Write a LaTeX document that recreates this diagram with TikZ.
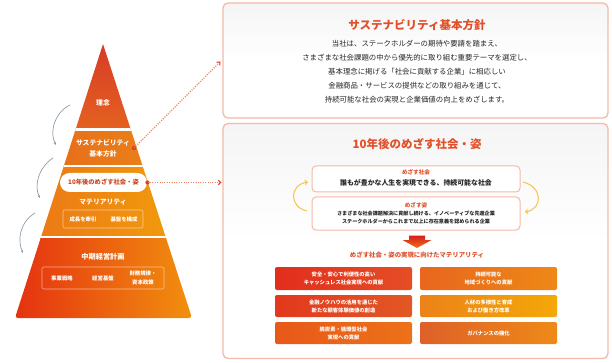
\documentclass[tikz,border=0pt]{standalone}
\usepackage{fontspec}
\setmainfont{Noto Sans CJK JP}
\usetikzlibrary{arrows.meta,calc}
\definecolor{titlered}{HTML}{E0502A}
\definecolor{panelline}{HTML}{F4B9A8}
\definecolor{dotred}{HTML}{D8382A}
\definecolor{dotline}{HTML}{EE8466}
\definecolor{bodytext}{HTML}{262626}
\definecolor{grayarrow}{HTML}{8D9DA9}
\definecolor{yellowarrow}{HTML}{F5C445}
\definecolor{pillred}{HTML}{C8461F}
\begin{document}
\begin{tikzpicture}[x=1pt,y=-1pt,
  every node/.style={inner sep=0pt, outer sep=0pt, align=center},
  ptext/.style={text=white, font=\fontsize{6.8}{11}\selectfont\bfseries},
  psmall/.style={text=white, font=\fontsize{5.4}{8.5}\selectfont\bfseries},
  pbox/.style={draw=white, draw opacity=0.55, line width=0.6, rounded corners=2},
  pill/.style={fill=white, rounded corners=9.5, minimum width=87, minimum height=19,
    text=pillred, font=\fontsize{6.3}{8}\selectfont\bfseries},
  panel/.style={draw=panelline, line width=1.3, rounded corners=5, top color=black!4, bottom color=white, middle color=white},
  ptitle/.style={text=titlered, font=\fontsize{11.5}{13}\selectfont\bfseries},
  body/.style={text=bodytext, font=\fontsize{7.4}{14}\selectfont},
  inbox/.style={draw=panelline, line width=1, rounded corners=4, fill=white, minimum width=208},
  inlabel/.style={text=titlered, font=\fontsize{5.6}{7}\selectfont\bfseries},
  mbox/.style={rounded corners=2, minimum width=137, text=white, font=\fontsize{5.3}{8}\selectfont\bfseries},
  dotconn/.style={draw=dotline, line width=1.1, dash pattern=on 1.1pt off 1.3pt,
    -{Straight Barb[length=2.4pt,width=4.4pt,color=dotred,line width=1.1pt]}},
  grayarr/.style={draw=grayarrow, line width=0.7, -{Stealth[length=3pt,width=2.6pt]}},
  yarr/.style={draw=yellowarrow, line width=1, -{Straight Barb[length=2.2pt,width=4.4pt]}}
]
\useasboundingbox (0,0) rectangle (612,363);

% ---------- pyramid ----------
\begin{scope}
  \clip (103,44) [rounded corners=3pt] -- (15,318) -- (192,318) [sharp corners] -- cycle;
  \shade[top color={rgb,255:red,214;green,58;blue,40}, bottom color={rgb,255:red,228;green,98;blue,32}] (0,40) rectangle (200,130);
  \shade[left color={rgb,255:red,228;green,100;blue,30}, right color={rgb,255:red,236;green,138;blue,22}] (0,130) rectangle (200,167);
  \shade[shading angle=60, left color={rgb,255:red,234;green,112;blue,24}, right color={rgb,255:red,242;green,162;blue,10}] (0,167) rectangle (200,238);
  \shade[shading angle=70, left color={rgb,255:red,228;green,42;blue,16}, right color={rgb,255:red,242;green,148;blue,14}] (0,238) rectangle (200,320);
  \draw[white, line width=2.4] (0,129.5) -- (200,129.5);
  \draw[white, line width=2.4] (0,166) -- (200,166);
  \draw[white, line width=2.4] (0,237) -- (200,237);
\end{scope}

\node[ptext] (rinen) at (103,103) {理念};
\node[ptext] (sus) at (103,148.5) {サステナビリティ\\基本方針};
\node[pill] (goal) at (103.5,182.5) {10年後のめざす社会・姿};
\node[ptext] (mat) at (103,202) {マテリアリティ};
\node[pbox, minimum width=80, minimum height=18] (matbox) at (103,219) {};
\node[psmall] (grow) at (83,219) {成長を牽引};
\node[psmall] (base) at (124,219) {基盤を構成};
\node[ptext, font=\fontsize{7.2}{9}\selectfont\bfseries] (chuki) at (103,257) {中期経営計画};
\node[pbox, minimum width=122, minimum height=22] (plbox) at (103,278) {};
\node[psmall] (jigyo) at (62,278) {事業戦略};
\node[psmall] (keiei) at (103,278) {経営基盤};
\node[psmall] (zaimu) at (143,278) {財務規律・\\資本政策};

% gray arrows
\draw[grayarr] (70,105) .. controls (55,112) and (49,132) .. (56,145);
\draw[grayarr] (53,158) .. controls (38,168) and (34,186) .. (40,198);
\draw[grayarr] (35,213) .. controls (20,222) and (17,240) .. (23,253);

% ---------- panels ----------
\node[panel, minimum width=385, minimum height=115] (toppanel) at (415.5,60.5) {};
\node[panel, minimum width=385, minimum height=235] (botpanel) at (415.5,241) {};

\node[ptitle] (toptitle) at (417,25) {サステナビリティ基本方針};
\node[body] (topbody) at (417,72) {当社は、ステークホルダーの期待や要請を踏まえ、\\
さまざまな社会課題の中から優先的に取り組む重要テーマを選定し、\\
基本理念に掲げる「社会に貢献する企業」に相応しい\\
金融商品・サービスの提供などの取り組みを通じて、\\
持続可能な社会の実現と企業価値の向上をめざします。};

\node[ptitle] (bottitle) at (417,144) {10年後のめざす社会・姿};

\node[inbox, minimum height=26] (society) at (416,179) {};
\node[inlabel] (socl) at (416,172.5) {めざす社会};
\node[text=bodytext, font=\fontsize{6.9}{8}\selectfont\bfseries] (soct) at (416,182.5) {誰もが豊かな人生を実現できる、持続可能な社会};

\node[inbox, minimum height=33] (vision) at (416,213.5) {};
\node[inlabel] (visl) at (416,205) {めざす姿};
\node[text=bodytext, font=\fontsize{5.1}{7.2}\selectfont\bfseries] (vist) at (416,217.5) {さまざまな社会課題解決に貢献し続ける、イノベーティブな先進企業\\ステークホルダーからこれまで以上に存在意義を認められる企業};

\draw[yarr] ($(vision.west)+(-5,-2.5)$) .. controls (289,207) and (289,185) .. ($(society.west)+(-4,3)$);
\draw[yarr] ($(society.east)+(3,3)$) .. controls (543,187) and (543,209) .. ($(vision.east)+(5,-1.5)$);

% red block arrow
\shade[top color={rgb,255:red,214;green,30;blue,24}, bottom color={rgb,255:red,240;green,110;blue,26}]
  (409,235.5) -- (425,235.5) -- (425,240) -- (431.5,240) -- (417,248) -- (402.5,240) -- (409,240) -- cycle;

\node[text=titlered, font=\fontsize{6.4}{8}\selectfont\bfseries] (mlabel) at (417,255.5) {めざす社会・姿の実現に向けたマテリアリティ};

\node[mbox, minimum height=23, left color={rgb,255:red,226;green,46;blue,28}, right color={rgb,255:red,228;green,78;blue,38}] (m1) at (343.5,278.5) {安全・安心で利便性の高い\\キャッシュレス社会実現への貢献};
\node[mbox, minimum height=23, left color={rgb,255:red,232;green,102;blue,30}, right color={rgb,255:red,238;green,136;blue,22}] (m2) at (488.5,278.5) {持続可能な\\地域づくりへの貢献};
\node[mbox, minimum height=22, left color={rgb,255:red,226;green,56;blue,30}, right color={rgb,255:red,226;green,88;blue,36}] (m3) at (343.5,306) {金融ノウハウの活用を通じた\\新たな顧客体験価値の創造};
\node[mbox, minimum height=22, left color={rgb,255:red,236;green,130;blue,24}, right color={rgb,255:red,244;green,168;blue,8}] (m4) at (488.5,306) {人材の多様性と育成\\および働き方改革};
\node[mbox, minimum height=22, left color={rgb,255:red,232;green,88;blue,26}, right color={rgb,255:red,236;green,114;blue,24}] (m5) at (343.5,333) {脱炭素・循環型社会\\実現への貢献};
\node[mbox, minimum height=22, left color={rgb,255:red,222;green,96;blue,40}, right color={rgb,255:red,238;green,138;blue,24}] (m6) at (488.5,333) {ガバナンスの強化};

% ---------- dotted connectors ----------
\fill[dotred] (134,148) circle (2.1);
\coordinate (dot1) at (134,148);
\fill[dotred] (147.5,182.5) circle (2.1);
\coordinate (dot2) at (147.5,182.5);
\draw[dotconn] (dot1) -- ($(toppanel.west)+(-2.5,1)$);
\draw[dotconn] (dot2) -- ($(botpanel.west |- dot2)+(-1.5,0)$);
\end{tikzpicture}
\end{document}
